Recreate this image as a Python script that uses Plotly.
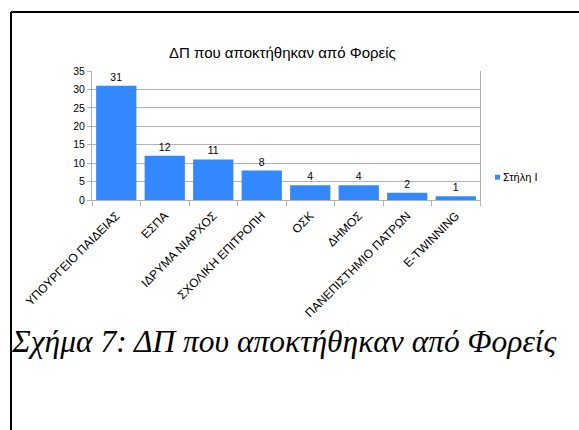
import plotly.graph_objects as go

categories = ["ΥΠΟΥΡΓΕΙΟ ΠΑΙΔΕΙΑΣ", "ΕΣΠΑ", "ΙΔΡΥΜΑ ΝΙΑΡΧΟΣ", "ΣΧΟΛΙΚΗ ΕΠΙΤΡΟΠΗ",
              "ΟΣΚ", "ΔΗΜΟΣ", "ΠΑΝΕΠΙΣΤΗΜΙΟ ΠΑΤΡΩΝ", "E-TWINNING"]
values = [31, 12, 11, 8, 4, 4, 2, 1]
series_name = "Στήλη Ι"
y_ticks = [0, 5, 10, 15, 20, 25, 30, 35]
chart_title = "ΔΠ που αποκτήθηκαν από Φορείς"
caption = "Σχήμα 7: ΔΠ που αποκτήθηκαν από Φορείς"

W, H = 579, 430
L, R, T, B = 92, 99, 70.5, 229.5
pw, ph = W - L - R, H - T - B

def px(x):
    return (x - L) / pw

def py(y):
    return (H - B - y) / ph

BLUE = "#3388ff"
GRID = "#b3b3b3"
SANS = "Liberation Sans, Arial, sans-serif"
SERIF = "Liberation Serif, Times New Roman, serif"

fig = go.Figure()
fig.add_trace(go.Bar(
    x=categories, y=values, name=series_name,
    marker=dict(color=BLUE, line=dict(width=0)),
    text=[str(v) for v in values], textposition="outside",
    textfont=dict(family=SANS, size=10.5, color="#000000"),
    cliponaxis=False, showlegend=False,
))

fig.update_layout(
    width=W, height=H,
    margin=dict(l=L, r=R, t=T, b=B),
    paper_bgcolor="white", plot_bgcolor="white",
    bargap=0.17,
    showlegend=False,
    font=dict(family=SANS, color="#000000"),
    xaxis=dict(
        tickangle=-45, tickfont=dict(size=12, family=SANS, color="#000000"),
        showline=True, linecolor=GRID, linewidth=1,
        ticks="outside", tickson="boundaries", ticklen=5, tickcolor=GRID,
        ticklabelstandoff=3,
        showgrid=False,
    ),
    yaxis=dict(
        range=[0, 35], tickvals=y_ticks, tickfont=dict(size=10.5, family=SANS, color="#000000"),
        showgrid=True, gridcolor=GRID, gridwidth=1,
        showline=True, linecolor=GRID, linewidth=1, mirror=True,
        ticks="outside", ticklen=4, tickcolor=GRID,
        zeroline=False,
    ),
)

annotations = [
    dict(text=chart_title, x=px(282), y=py(52), xref="paper", yref="paper",
         showarrow=False, xanchor="center", yanchor="middle",
         font=dict(family=SANS, size=15, color="#000000")),
    dict(text=series_name, x=px(501), y=py(177.5), xref="paper", yref="paper",
         showarrow=False, xanchor="left", yanchor="middle",
         font=dict(family=SANS, size=11, color="#000000")),
    dict(text=caption, x=px(9), y=py(343), xref="paper", yref="paper",
         showarrow=False, xanchor="left", yanchor="middle",
         font=dict(family=SERIF, size=31.5, color="#000000", style="italic")),
]
fig.update_layout(annotations=annotations)

shapes = [
    # legend key
    dict(type="rect", xref="paper", yref="paper", x0=px(495), x1=px(500), y0=py(180), y1=py(175),
         fillcolor=BLUE, line=dict(width=0)),
    # frame
    dict(type="line", xref="paper", yref="paper", x0=px(11), x1=px(600), y0=py(11), y1=py(11),
         line=dict(color="black", width=2)),
    dict(type="line", xref="paper", yref="paper", x0=px(11), x1=px(11), y0=py(11), y1=py(450),
         line=dict(color="black", width=2)),
]
fig.update_layout(shapes=shapes)

fig.write_html("out.html")
